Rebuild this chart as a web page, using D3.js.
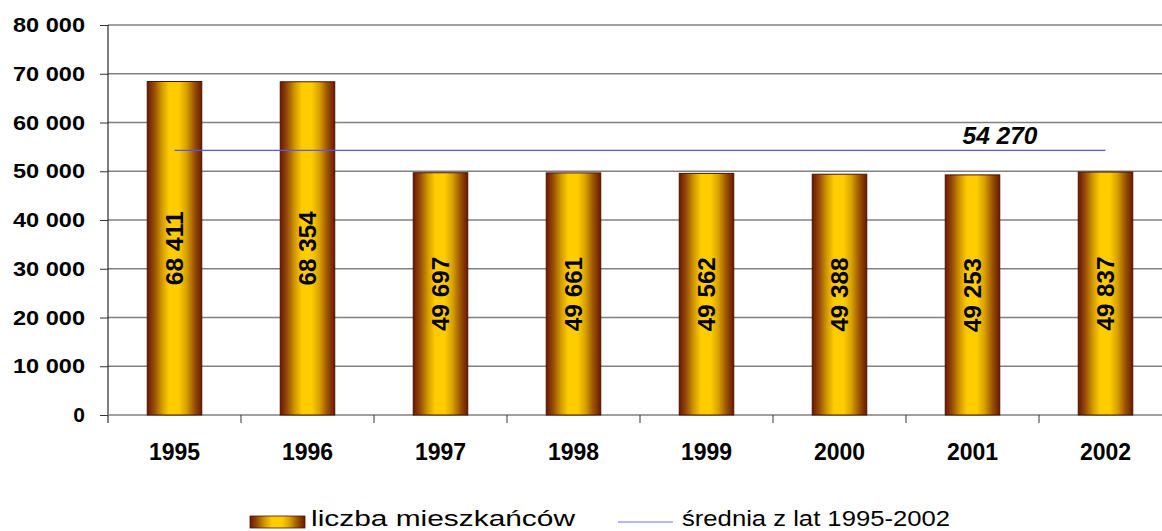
<!DOCTYPE html>
<html><head><meta charset="utf-8">
<script src="https://cdn.jsdelivr.net/npm/d3@7"></script>
<style>body{margin:0;background:#fff;overflow:hidden}svg{display:block;font-family:Arial,"Liberation Sans",sans-serif}</style>
</head><body><svg id="c" width="1162" height="531"></svg>
<script>
const years = ["1995","1996","1997","1998","1999","2000","2001","2002"];
const residents = [68411,68354,49697,49661,49562,49388,49253,49837];
const average = 54270;
const yTicks = [0,10000,20000,30000,40000,50000,60000,70000,80000];
const seriesNames = ["liczba mieszkańców","średnia z lat 1995-2002"];

(function(){
const svg = d3.select("#c");
const fmt = v => d3.format(",")(v).replace(/,/g," ");
const pL = 108, pR = 1172, pT = 25, pB = 415;
const x = d3.scaleBand().domain(years).range([pL, pR]).paddingInner(0).paddingOuter(0);
const y = d3.scaleLinear().domain([0,80000]).range([pB, pT]);

const defs = svg.append("defs");
const g = defs.append("linearGradient").attr("id","bg").attr("x1","0").attr("x2","1").attr("y1","0").attr("y2","0");
[[0,"#6b1800"],[0.12,"#94480a"],[0.27,"#d29a00"],[0.4,"#ffcc00"],[0.58,"#ffcc00"],[0.72,"#d8a000"],[0.87,"#985000"],[1,"#6b1800"]]
  .forEach(([o,c]) => g.append("stop").attr("offset",o).attr("stop-color",c));

// gridlines
svg.append("g").selectAll("line").data(yTicks.filter(d=>d>0)).join("line")
  .attr("x1",pL).attr("x2",pR).attr("y1",d=>y(d)).attr("y2",d=>y(d))
  .attr("stroke","#808080").attr("stroke-width",1.5);

// y axis
const ya = svg.append("g").attr("transform",`translate(${pL},0)`)
  .call(d3.axisLeft(y).tickValues(yTicks).tickSize(8).tickPadding(15).tickFormat(fmt));
ya.select(".domain").attr("stroke","#000").attr("d",`M0,${pT}V${pB+8}`);
ya.selectAll(".tick line").attr("stroke","#333");
ya.selectAll("text").attr("font-size",21).attr("font-weight","bold").attr("fill","#000")
  .attr("font-family","Arial,'Liberation Sans',sans-serif")
  .each(function(d){ if(d>0) d3.select(this).attr("textLength",72).attr("lengthAdjust","spacingAndGlyphs"); });

// x axis
svg.append("line").attr("x1",pL).attr("x2",pR).attr("y1",pB).attr("y2",pB)
  .attr("stroke","#808080").attr("stroke-width",1.5);
svg.append("g").selectAll("line").data(years.slice(1)).join("line")
  .attr("x1",d=>x(d)).attr("x2",d=>x(d)).attr("y1",pB).attr("y2",pB+8).attr("stroke","#333");
svg.append("g").selectAll("text").data(years).join("text")
  .attr("x",d=>x(d)+x.bandwidth()/2).attr("y",460)
  .attr("text-anchor","middle").attr("font-size",23).attr("font-weight","bold").text(d=>d);

// bars
const bw = x.bandwidth()*0.41;
svg.append("g").selectAll("rect").data(years).join("rect")
  .attr("x",(d)=>x(d)+x.bandwidth()/2-bw/2).attr("width",bw)
  .attr("y",(d,i)=>y(residents[i])).attr("height",(d,i)=>pB-y(residents[i]))
  .attr("fill","url(#bg)").attr("stroke","#4a1400").attr("stroke-width",1);

// value labels
svg.append("g").selectAll("text").data(years).join("text")
  .attr("transform",(d,i)=>`translate(${x(d)+x.bandwidth()/2+8},${(y(residents[i])+pB)/2}) rotate(-90)`)
  .attr("text-anchor","middle").attr("font-size",23).attr("font-weight","bold")
  .attr("textLength",74).attr("lengthAdjust","spacingAndGlyphs")
  .text((d,i)=>fmt(residents[i]));

// average line
svg.append("line").attr("x1",x(years[0])+x.bandwidth()/2).attr("x2",x(years[years.length-1])+x.bandwidth()/2)
  .attr("y1",y(average)).attr("y2",y(average)).attr("stroke","#5555ff").attr("stroke-width",1.2);
svg.append("text").attr("x",1000).attr("y",144).attr("text-anchor","middle")
  .attr("font-size",23).attr("font-weight","bold").attr("font-style","italic")
  .attr("textLength",75).attr("lengthAdjust","spacingAndGlyphs").text(fmt(average));

// legend
const lg = svg.append("g");
lg.append("rect").attr("x",250).attr("y",516).attr("width",55).attr("height",12)
  .attr("fill","url(#bg)").attr("stroke","#4a1400").attr("stroke-width",0.8);
lg.append("text").attr("x",311).attr("y",526).attr("font-size",22)
  .attr("textLength",264).attr("lengthAdjust","spacingAndGlyphs").text(seriesNames[0]);
lg.append("line").attr("x1",618).attr("x2",673).attr("y1",522).attr("y2",522)
  .attr("stroke","#6f6fff").attr("stroke-width",1.2);
lg.append("text").attr("x",682).attr("y",526).attr("font-size",22)
  .attr("textLength",268).attr("lengthAdjust","spacingAndGlyphs").text(seriesNames[1]);
})();
</script></body></html>
